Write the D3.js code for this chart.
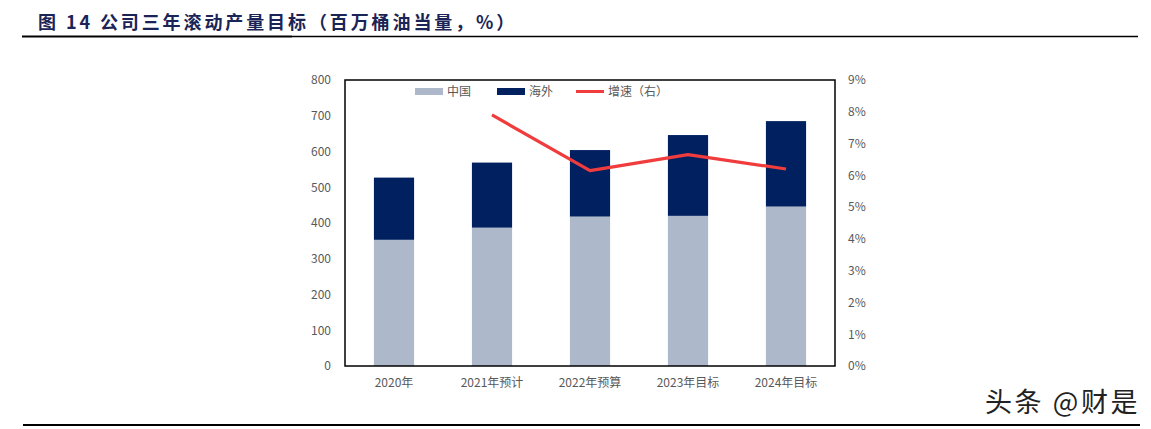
<!DOCTYPE html>
<html><head><meta charset="utf-8">
<script src="https://cdn.jsdelivr.net/npm/d3@7"></script>
<style>
body{margin:0;background:#fff;}
svg{display:block;}
</style></head>
<body><svg id="c" width="1151" height="429"></svg>
<script>
const categories = ["2020年","2021年预计","2022年预算","2023年目标","2024年目标"];
const china = [353, 387, 418, 420, 446];
const overseas = [174, 182, 186, 226, 239];
const growth = [null, 7.9, 6.15, 6.65, 6.2];
const leftTicks = [0,100,200,300,400,500,600,700,800];
const rightTicks = [0,1,2,3,4,5,6,7,8,9];
const seriesNames = ["中国","海外","增速（右）"];
const title = "图 14  公司三年滚动产量目标（百万桶油当量，%）";
const watermark = "头条 @财是";

const svg = d3.select("#c");
const font = "'Noto Sans CJK SC','Microsoft YaHei',sans-serif";
const L = 345, R = 835, T = 80, B = 366;
const x = d3.scaleBand().domain(categories).range([L, R]).paddingInner(0.59).paddingOuter(0.295);
const y = d3.scaleLinear().domain([0, 800]).range([B, T]);
const y2 = d3.scaleLinear().domain([0, 9]).range([B, T]);
const cChina = "#adb9ca", cOver = "#002060", cLine = "#f03c3c";

// title
svg.append("text").attr("x", 38).attr("y", 29).attr("font-family", font)
  .attr("font-weight", "bold").attr("font-size", 18).attr("letter-spacing", 2.9).attr("fill", "#1a2456").text(title);
svg.append("line").attr("x1", 22).attr("x2", 292).attr("y1", 36.5).attr("y2", 36.5).attr("stroke", "#000").attr("stroke-width", 2.2);
svg.append("line").attr("x1", 292).attr("x2", 1138).attr("y1", 36.5).attr("y2", 36.5).attr("stroke", "#000").attr("stroke-width", 1.5);
svg.append("line").attr("x1", 23).attr("x2", 1140).attr("y1", 425).attr("y2", 425).attr("stroke", "#000").attr("stroke-width", 2);

// bars
const g = svg.append("g");
g.selectAll(".cn").data(categories).join("rect")
  .attr("x", d => x(d)).attr("width", x.bandwidth())
  .attr("y", (d,i) => y(china[i])).attr("height", (d,i) => y(0) - y(china[i])).attr("fill", cChina);
g.selectAll(".os").data(categories).join("rect")
  .attr("x", d => x(d)).attr("width", x.bandwidth())
  .attr("y", (d,i) => y(china[i] + overseas[i])).attr("height", (d,i) => y(china[i]) - y(china[i] + overseas[i])).attr("fill", cOver);

// line
const line = d3.line().defined(d => d.v != null).x(d => x(d.c) + x.bandwidth()/2).y(d => y2(d.v));
g.append("path").datum(categories.map((c,i) => ({c, v: growth[i]})))
  .attr("d", line).attr("fill", "none").attr("stroke", cLine).attr("stroke-width", 3.2).attr("stroke-linejoin", "round");

// frame
svg.append("rect").attr("x", L).attr("y", T).attr("width", R - L).attr("height", B - T)
  .attr("fill", "none").attr("stroke", "#000").attr("stroke-width", 1.5);

// axes
const axL = svg.append("g").attr("transform", `translate(${L},0)`)
  .call(d3.axisLeft(y).tickValues(leftTicks).tickSize(0).tickPadding(14));
const axR = svg.append("g").attr("transform", `translate(${R},0)`)
  .call(d3.axisRight(y2).tickValues(rightTicks).tickFormat(d => d + "%").tickSize(0).tickPadding(13));
const axB = svg.append("g").attr("transform", `translate(0,${B})`)
  .call(d3.axisBottom(x).tickSize(0).tickPadding(12));
[axL, axR, axB].forEach(a => {
  a.select(".domain").remove();
  a.selectAll("text").attr("font-family", font).attr("font-size", 12).attr("fill", "#595959");
});
axL.selectAll("text").attr("x", -14);

// legend
const lg = svg.append("g").attr("font-family", font).attr("font-size", 12).attr("fill", "#595959");
const lx = [415, 497, 576];
lg.append("rect").attr("x", lx[0]).attr("y", 88).attr("width", 28).attr("height", 7).attr("fill", cChina);
lg.append("rect").attr("x", lx[1]).attr("y", 88).attr("width", 28).attr("height", 7).attr("fill", cOver);
lg.append("line").attr("x1", lx[2]).attr("x2", lx[2] + 28).attr("y1", 91.5).attr("y2", 91.5).attr("stroke", cLine).attr("stroke-width", 3);
seriesNames.forEach((n,i) => lg.append("text").attr("x", lx[i] + 32).attr("y", 96).text(n));

// watermark
svg.append("text").attr("x", 985).attr("y", 412).attr("font-family", font).attr("font-size", 27)
  .attr("letter-spacing", 2.6).attr("fill", "#222").text(watermark);
</script></body></html>
